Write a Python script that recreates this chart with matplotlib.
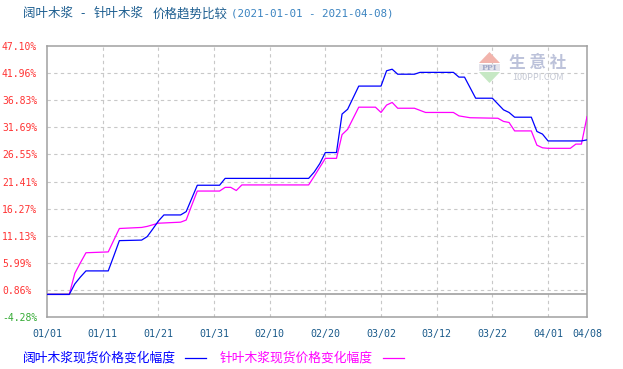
import matplotlib
matplotlib.use("Agg")
import matplotlib.pyplot as plt
from matplotlib.patches import Polygon, Rectangle
import pandas as pd

plt.rcParams['font.family'] = ['Noto Sans CJK SC', 'DejaVu Sans']

# ---------------- data ----------------
title_parts = ["阔叶木浆", "-", "针叶木浆", "价格趋势比较"]
title_dates = "(2021-01-01 - 2021-04-08)"
series_names = ["阔叶木浆现货价格变化幅度", "针叶木浆现货价格变化幅度"]

hardwood_dates = ["2021-01-01", "2021-01-05", "2021-01-06", "2021-01-07", "2021-01-08",
                  "2021-01-12", "2021-01-13", "2021-01-14", "2021-01-18", "2021-01-19",
                  "2021-01-20", "2021-01-21", "2021-01-22", "2021-01-25", "2021-01-26",
                  "2021-01-27", "2021-01-28", "2021-02-01", "2021-02-02", "2021-02-17",
                  "2021-02-18", "2021-02-19", "2021-02-20", "2021-02-22", "2021-02-23",
                  "2021-02-24", "2021-02-25", "2021-02-26", "2021-03-02", "2021-03-03",
                  "2021-03-04", "2021-03-05", "2021-03-08", "2021-03-09", "2021-03-15",
                  "2021-03-16", "2021-03-17", "2021-03-18", "2021-03-19", "2021-03-22",
                  "2021-03-23", "2021-03-24", "2021-03-25", "2021-03-26", "2021-03-29",
                  "2021-03-30", "2021-03-31", "2021-04-01", "2021-04-07", "2021-04-08"]
hardwood_values = [0.0, 0.0, 2.0, 3.3, 4.46,
                   4.46, 7.3, 10.2, 10.3, 10.96,
                   12.4, 13.9, 15.07, 15.07, 15.7,
                   18.2, 20.7, 20.7, 22.0, 22.0,
                   23.2, 24.8, 26.9, 26.9, 34.2,
                   35.1, 37.3, 39.5, 39.5, 42.4,
                   42.7, 41.75, 41.75, 42.1, 42.1,
                   41.2, 41.2, 39.2, 37.2, 37.2,
                   36.1, 35.0, 34.5, 33.6, 33.6,
                   30.9, 30.4, 29.1, 29.1, 29.3]

softwood_dates = ["2021-01-01", "2021-01-05", "2021-01-06", "2021-01-07", "2021-01-08",
                  "2021-01-12", "2021-01-13", "2021-01-14", "2021-01-18", "2021-01-19",
                  "2021-01-20", "2021-01-21", "2021-01-25", "2021-01-26", "2021-01-27",
                  "2021-01-28", "2021-02-01", "2021-02-02", "2021-02-03", "2021-02-04",
                  "2021-02-05", "2021-02-17", "2021-02-18", "2021-02-19", "2021-02-20",
                  "2021-02-22", "2021-02-23", "2021-02-24", "2021-02-25", "2021-02-26",
                  "2021-03-01", "2021-03-02", "2021-03-03", "2021-03-04", "2021-03-05",
                  "2021-03-08", "2021-03-10", "2021-03-15", "2021-03-16", "2021-03-18",
                  "2021-03-23", "2021-03-24", "2021-03-25", "2021-03-26", "2021-03-29",
                  "2021-03-30", "2021-03-31", "2021-04-01", "2021-04-05", "2021-04-06",
                  "2021-04-07", "2021-04-08"]
softwood_values = [0.0, 0.0, 4.0, 6.0, 7.9,
                   8.06, 10.3, 12.5, 12.7, 12.9,
                   13.2, 13.5, 13.7, 14.1, 16.9,
                   19.6, 19.6, 20.3, 20.3, 19.7,
                   20.76, 20.76, 22.4, 24.1, 25.8,
                   25.8, 30.3, 31.3, 33.4, 35.5,
                   35.5, 34.5, 35.9, 36.4, 35.3,
                   35.3, 34.5, 34.5, 33.85, 33.5,
                   33.4, 32.8, 32.6, 31.0, 31.0,
                   28.3, 27.8, 27.7, 27.7, 28.5,
                   28.5, 33.7]

ytick_labels = ["-4.28%", "0.86%", "5.99%", "11.13%", "16.27%", "21.41%",
                "26.55%", "31.69%", "36.83%", "41.96%", "47.10%"]
xtick_dates = ["2021-01-01", "2021-01-11", "2021-01-21", "2021-01-31", "2021-02-10",
               "2021-02-20", "2021-03-02", "2021-03-12", "2021-03-22", "2021-04-01",
               "2021-04-08"]

# ---------------- figure ----------------
W, H = 623, 369
fig = plt.figure(figsize=(W / 100, H / 100), dpi=100)
fig.patch.set_facecolor("white")


def px(x, y):
    return x / W, 1 - y / H


L, R, T, B = 47, 587, 46, 317
ax = fig.add_axes([L / W, 1 - B / H, (R - L) / W, (B - T) / H])

blue = "#0000ff"
magenta = "#ff00ff"
grid_c = "#c8c8c8"
frame_c = "#a0a0a0"

hd = pd.to_datetime(hardwood_dates)
sd = pd.to_datetime(softwood_dates)
ax.plot(hd, hardwood_values, color=blue, lw=0.9, zorder=4)
ax.plot(sd, softwood_values, color=magenta, lw=0.9, zorder=3)

yvals = [float(s.rstrip('%')) for s in ytick_labels]
ax.set_ylim(yvals[0], yvals[-1])
xt = pd.to_datetime(xtick_dates)
ax.set_xlim(xt[0], xt[-1])

# grid
for v in yvals[1:-1]:
    ax.axhline(v, color=grid_c, lw=0.8, ls=(0, (3, 3)), zorder=1)
for d in xt[1:-1]:
    ax.axvline(d, color=grid_c, lw=0.8, ls=(0, (3, 3)), zorder=1)
ax.axhline(0, color=frame_c, lw=1.2, zorder=2)

for s in ax.spines.values():
    s.set_color(frame_c)
    s.set_linewidth(1.1)

ax.set_yticks(yvals)
ax.set_yticklabels(ytick_labels, fontfamily="DejaVu Sans Mono", fontsize=7, ha="left")
ax.tick_params(axis="y", length=0, pad=(L - 2) * 0.72)
for lab in ax.get_yticklabels():
    lab.set_color("#33aa33" if lab.get_text().startswith("-") else "#ff3333")

ax.set_xticks(xt)
ax.set_xticklabels([d.strftime("%m/%d") for d in xt], fontfamily="DejaVu Sans Mono",
                   fontsize=7.2, color="#1a5a8a")
ax.tick_params(axis="x", length=0, pad=9)

# title (pieces placed to mimic the fixed-width original)
for xpos, part in zip([23, 80, 94, 153], title_parts):
    fig.text(*px(xpos, 14), part, color="#1d5e90", fontsize=9, va="center", ha="left")
fig.text(*px(231, 14), title_dates, color="#3a83c0", fontsize=7.8,
         fontfamily="DejaVu Sans Mono", va="center", ha="left")

# legend
fig.text(*px(23, 358), series_names[0], color=blue, fontsize=9.2, va="center", ha="left")
fig.add_artist(plt.Line2D([185 / W, 206 / W], [1 - 358 / H] * 2, color=blue, lw=0.9))
fig.text(*px(220, 358), series_names[1], color=magenta, fontsize=9.2, va="center", ha="left")
fig.add_artist(plt.Line2D([383 / W, 404 / W], [1 - 358 / H] * 2, color=magenta, lw=0.9))

# watermark
fig.add_artist(Polygon([px(479, 63), px(500, 63), px(489.5, 52)], closed=True,
                       transform=fig.transFigure, color="#f2b4ac", lw=0, zorder=5))
fig.add_artist(Rectangle(px(479, 71), 21 / W, 7 / H, transform=fig.transFigure,
                         color="#e4e4ec", lw=0, zorder=5))
fig.add_artist(Polygon([px(479, 72), px(500, 72), px(489.5, 83)], closed=True,
                       transform=fig.transFigure, color="#c6e8c4", lw=0, zorder=5))
fig.text(*px(489.5, 67.5), "PPI", color="#a0a8c8", fontsize=5.5, fontweight="bold",
         va="center", ha="center", fontfamily="DejaVu Serif", zorder=6)
fig.text(*px(538, 63), "生 意 社", color="#bcc2da", fontsize=12, fontweight="bold",
         va="center", ha="center", zorder=6)
fig.text(*px(538, 77), "100PPI.COM", color="#c4c8d4", fontsize=6.5,
         va="center", ha="center", zorder=6)

fig.savefig("out.png", dpi=100, facecolor="white")
